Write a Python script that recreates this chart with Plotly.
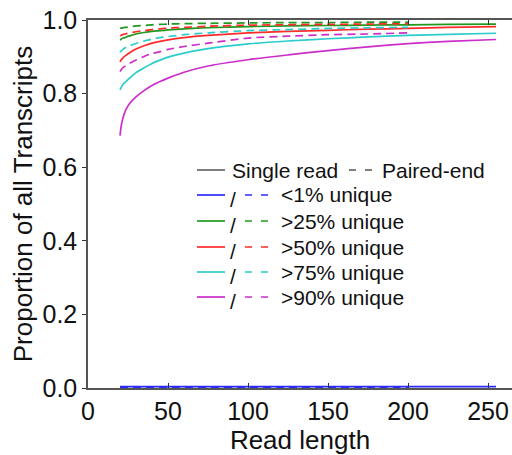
import plotly.graph_objects as go

# ---------------- data ----------------
read_len_single = [20, 20.5, 21, 22, 23, 24, 26, 30, 35, 40, 45, 50, 60, 75, 100, 125, 150, 175, 200, 225, 255]
read_len_paired = [20, 20.5, 21, 22, 23, 24, 26, 30, 35, 40, 45, 50, 60, 75, 100, 125, 150, 175, 200]

single_lt1 = [0.004] * 21
single_gt25 = [0.946, 0.947, 0.949, 0.951, 0.952, 0.954, 0.957, 0.962, 0.966, 0.969, 0.971, 0.973, 0.976, 0.979, 0.982, 0.984, 0.985, 0.986, 0.987, 0.988, 0.989]
single_gt50 = [0.886, 0.890, 0.893, 0.898, 0.902, 0.905, 0.911, 0.921, 0.930, 0.937, 0.942, 0.946, 0.952, 0.958, 0.965, 0.969, 0.972, 0.975, 0.977, 0.980, 0.982]
single_gt75 = [0.810, 0.815, 0.819, 0.826, 0.830, 0.834, 0.842, 0.857, 0.870, 0.882, 0.891, 0.899, 0.910, 0.922, 0.935, 0.943, 0.949, 0.954, 0.958, 0.961, 0.964]
single_gt90 = [0.686, 0.704, 0.718, 0.736, 0.749, 0.759, 0.773, 0.791, 0.808, 0.822, 0.833, 0.842, 0.858, 0.875, 0.892, 0.905, 0.917, 0.927, 0.936, 0.942, 0.947]

paired_lt1 = [0.001] * 19
paired_gt25 = [0.977, 0.978, 0.978, 0.979, 0.980, 0.980, 0.981, 0.984, 0.985, 0.987, 0.988, 0.989, 0.990, 0.991, 0.992, 0.993, 0.993, 0.994, 0.994]
paired_gt50 = [0.957, 0.958, 0.959, 0.961, 0.962, 0.963, 0.965, 0.968, 0.971, 0.974, 0.976, 0.978, 0.980, 0.983, 0.986, 0.987, 0.988, 0.989, 0.990]
paired_gt75 = [0.912, 0.915, 0.917, 0.921, 0.924, 0.926, 0.930, 0.936, 0.943, 0.948, 0.952, 0.955, 0.960, 0.965, 0.971, 0.974, 0.977, 0.979, 0.980]
paired_gt90 = [0.860, 0.863, 0.866, 0.871, 0.874, 0.877, 0.882, 0.891, 0.901, 0.909, 0.914, 0.920, 0.928, 0.937, 0.951, 0.956, 0.960, 0.962, 0.965]

categories = ["<1% unique", ">25% unique", ">50% unique", ">75% unique", ">90% unique"]
colors = ["#2b2bff", "#1f9a1f", "#ff2b2b", "#2ccccc", "#cc2ecc"]
x_ticks = [0, 50, 100, 150, 200, 250]
y_ticks = [0.0, 0.2, 0.4, 0.6, 0.8, 1.0]

single = [single_lt1, single_gt25, single_gt50, single_gt75, single_gt90]
paired = [paired_lt1, paired_gt25, paired_gt50, paired_gt75, paired_gt90]

FONT = "Liberation Sans, Arial, sans-serif"
W, H = 512, 455
ML, MR, MT, MB = 88, 0, 20, 67

fig = go.Figure()
for name, col, s, p in zip(categories, colors, single, paired):
    fig.add_trace(go.Scatter(x=read_len_single, y=s, mode="lines", name=name + " single",
                             line=dict(color=col, width=1.7, shape="spline", smoothing=0.6), showlegend=False))
    fig.add_trace(go.Scatter(x=read_len_paired, y=p, mode="lines", name=name + " paired",
                             line=dict(color=col, width=1.7, dash="8px,5px", shape="spline", smoothing=0.6),
                             showlegend=False))

# ---- custom legend (pixel -> paper helpers) ----
def px(x):
    return (x - ML) / (W - ML - MR)

def py(y):
    return (H - MB - y) / (H - MT - MB)

LEG = 21
shapes = []
annotations = []
hy = 170
shapes.append(dict(type="line", xref="paper", yref="paper", x0=px(197), x1=px(225), y0=py(hy), y1=py(hy),
                   line=dict(color="#555555", width=1.5)))
annotations.append(dict(text="Single read", xref="paper", yref="paper", x=px(230), y=py(hy),
                        xanchor="left", yanchor="middle", showarrow=False, font=dict(size=LEG, color="#111")))
shapes.append(dict(type="line", xref="paper", yref="paper", x0=px(349), x1=px(372), y0=py(hy), y1=py(hy),
                   line=dict(color="#555555", width=1.5, dash="7px,9px")))
annotations.append(dict(text="Paired-end", xref="paper", yref="paper", x=px(380), y=py(hy),
                        xanchor="left", yanchor="middle", showarrow=False, font=dict(size=LEG, color="#111")))

row_y = [195, 221, 247, 272, 297]
for name, col, ry in zip(categories, colors, row_y):
    shapes.append(dict(type="line", xref="paper", yref="paper", x0=px(197), x1=px(225), y0=py(ry), y1=py(ry),
                       line=dict(color=col, width=1.7)))
    shapes.append(dict(type="line", xref="paper", yref="paper", x0=px(245), x1=px(268), y0=py(ry), y1=py(ry),
                       line=dict(color=col, width=1.7, dash="7px,9px")))
    annotations.append(dict(text="/", xref="paper", yref="paper", x=px(233), y=py(ry + 4),
                            xanchor="center", yanchor="middle", showarrow=False, font=dict(size=LEG, color="#111")))
    annotations.append(dict(text=name, xref="paper", yref="paper", x=px(279), y=py(ry),
                            xanchor="left", yanchor="middle", showarrow=False, font=dict(size=LEG, color="#111")))

fig.update_layout(
    width=W, height=H,
    margin=dict(l=ML, r=MR, t=MT, b=MB, autoexpand=False),
    paper_bgcolor="white", plot_bgcolor="white",
    font=dict(family=FONT, size=25, color="#111"),
    shapes=shapes, annotations=annotations,
    showlegend=False,
)
fig.update_xaxes(range=[0, 265], tickvals=x_ticks, ticktext=[str(v) for v in x_ticks], automargin=False,
                 showgrid=False, zeroline=False, showline=True, linecolor="#555", linewidth=1.5,
                 mirror="ticks", ticks="inside", ticklen=5, tickcolor="#333", tickwidth=1,
                 tickfont=dict(size=25), title=dict(text="Read length", font=dict(size=26), standoff=2))
fig.update_yaxes(range=[0, 1], tickvals=y_ticks, ticktext=[f"{v:.1f}" for v in y_ticks], automargin=False,
                 showgrid=False, zeroline=False, showline=True, linecolor="#555", linewidth=1.5,
                 ticks="outside", ticklen=4, tickcolor="#333", tickwidth=1,
                 tickfont=dict(size=25), title=dict(text="Proportion of all Transcripts", font=dict(size=26), standoff=2))

fig.write_html("out.html", config={"displayModeBar": False},
               post_script="document.body.style.margin='0';document.body.style.padding='0';document.body.style.overflow='hidden';")
